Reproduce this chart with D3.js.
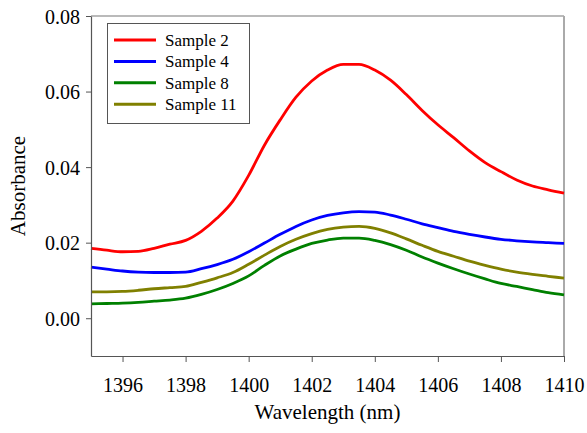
<!DOCTYPE html>
<html><head><meta charset="utf-8">
<script src="https://cdn.jsdelivr.net/npm/d3@7"></script>
<style>body{margin:0;background:#fff}svg{display:block}
text{font-family:"Liberation Serif","Tinos","Times New Roman","Nimbus Roman","DejaVu Serif",serif !important;}</style>
</head><body>
<script>
const wavelengths = d3.range(1395, 1410.01, 0.5);
const sample2 = [0.0185,0.0180,0.0176,0.0177,0.0185,0.0196,0.0206,0.0230,0.0265,0.0310,0.0378,0.0458,0.0525,0.0585,0.0628,0.0657,0.0672,0.0672,0.0657,0.0630,0.0592,0.0550,0.0512,0.0478,0.0443,0.0412,0.0388,0.0366,0.0350,0.0340,0.0331];
const sample4 = [0.0135,0.0130,0.0125,0.0122,0.0121,0.0121,0.0122,0.0131,0.0142,0.0156,0.0176,0.0199,0.0222,0.0243,0.0260,0.0272,0.0279,0.0282,0.0281,0.0273,0.0262,0.0250,0.0240,0.0230,0.0222,0.0215,0.0209,0.0205,0.0202,0.0200,0.0198];
const sample8 = [0.0038,0.0039,0.0040,0.0042,0.0045,0.0048,0.0053,0.0063,0.0076,0.0092,0.0112,0.0140,0.0165,0.0183,0.0198,0.0207,0.0212,0.0212,0.0206,0.0195,0.0180,0.0162,0.0146,0.0131,0.0117,0.0104,0.0092,0.0084,0.0076,0.0068,0.0062];
const sample11 = [0.0070,0.0070,0.0071,0.0074,0.0078,0.0081,0.0084,0.0095,0.0107,0.0121,0.0143,0.0167,0.0190,0.0209,0.0224,0.0235,0.0241,0.0243,0.0238,0.0226,0.0210,0.0193,0.0177,0.0164,0.0151,0.0140,0.0130,0.0122,0.0116,0.0111,0.0106];
const seriesNames = ["Sample 2","Sample 4","Sample 8","Sample 11"];
const seriesColors = ["#ff0000","#0000ff","#008000","#808000"];
const xTicks = [1396,1398,1400,1402,1404,1406,1408,1410];
const yTicks = [0.00,0.02,0.04,0.06,0.08];

const W = 587, H = 433;
const L = 91, R = 564, T = 16, B = 356;
const svg = d3.select("body").append("svg").attr("width", W).attr("height", H);
const x = d3.scaleLinear().domain([1395, 1410]).range([L, R]);
const y = d3.scaleLinear().domain([-0.01, 0.08]).range([B, T]);

// frame top/right
svg.append("line").attr("x1", L).attr("x2", R).attr("y1", T).attr("y2", T).attr("stroke", "#777").attr("stroke-width", 1.2);
svg.append("line").attr("x1", R).attr("x2", R).attr("y1", T).attr("y2", B).attr("stroke", "#aaa").attr("stroke-width", 2);

// lines
const allSeries = [sample2, sample4, sample8, sample11];
const line = d3.line().x((d, i) => x(wavelengths[i])).y(d => y(d)).curve(d3.curveMonotoneX);
const plot = svg.append("g");
[sample11, sample8, sample4, sample2].forEach(s => {
  const idx = allSeries.indexOf(s);
  plot.append("path").datum(s).attr("d", line).attr("fill", "none")
    .attr("stroke", seriesColors[idx]).attr("stroke-width", 2.8).attr("stroke-linejoin", "round");
});

// axes
const xAxis = svg.append("g").attr("transform", `translate(0,${B})`)
  .call(d3.axisBottom(x).tickValues(xTicks).tickFormat(d3.format("d")).tickSize(6).tickSizeOuter(0));
const yAxis = svg.append("g").attr("transform", `translate(${L},0)`)
  .call(d3.axisLeft(y).tickValues(yTicks).tickFormat(d3.format(".2f")).tickSize(5).tickSizeOuter(0));
[xAxis, yAxis].forEach(a => {
  a.select(".domain").attr("stroke", "#555").attr("stroke-width", 1.2);
  a.selectAll(".tick line").attr("stroke", "#555");
  a.selectAll("text").attr("font-size", 20).attr("fill", "#000");
});
xAxis.selectAll("text").attr("dy", "1.35em");
yAxis.selectAll("text").attr("x", -11).attr("dy", "0.35em");

svg.append("text").attr("x", (L + R) / 2).attr("y", 419).attr("text-anchor", "middle")
  .attr("font-size", 21).text("Wavelength (nm)");
svg.append("text").attr("transform", `translate(25,${(T + B) / 2}) rotate(-90)`).attr("text-anchor", "middle")
  .attr("font-size", 21).text("Absorbance");

// legend
const lg = svg.append("g");
lg.append("rect").attr("x", 107.5).attr("y", 23.5).attr("width", 142).attr("height", 100)
  .attr("fill", "#fff").attr("stroke", "#555").attr("stroke-width", 1);
seriesNames.forEach((n, i) => {
  const yy = 40 + i * 21.4;
  lg.append("line").attr("x1", 114).attr("x2", 156).attr("y1", yy).attr("y2", yy)
    .attr("stroke", seriesColors[i]).attr("stroke-width", 3);
  lg.append("text").attr("x", 165).attr("y", yy).attr("dy", "0.35em")
    .attr("font-size", 17).text(n);
});
</script>
</body></html>
